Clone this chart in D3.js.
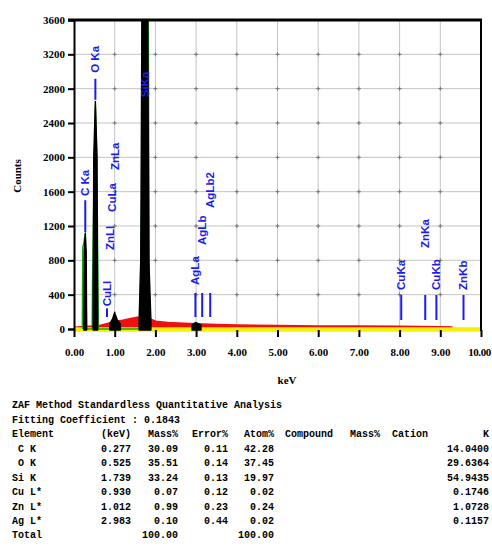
<!DOCTYPE html>
<html>
<head>
<meta charset="utf-8">
<script src="https://cdn.jsdelivr.net/npm/d3@7"></script>
<style>
  body { margin: 0; background: #fff; }
  svg { display: block; }
</style>
</head>
<body>
<script>
// ── axis ticks ───────────────────────────────────────────
const xTicks = [0, 1, 2, 3, 4, 5, 6, 7, 8, 9, 10];
const yTicks = [0, 400, 800, 1200, 1600, 2000, 2400, 2800, 3200, 3600];

// ── spectrum (keV, counts) ───────────────────────────────
// black: net peaks only (0 = gap)
const peakKeV = [0.23, 0.24, 0.25, 0.277, 0.30, 0.31, 0.32,
  0.46, 0.47, 0.485, 0.525, 0.565, 0.58, 0.59,
  0.80, 0.88, 0.95, 0.99, 1.00, 1.01, 1.06, 1.14, 1.20, 1.21,
  1.58, 1.60, 1.64, 1.67, 1.70, 1.739, 1.78, 1.81, 1.84, 1.89, 1.95,
  2.85, 2.90, 2.95, 2.99, 3.04, 3.12, 3.15];
const peakCounts = [0, 50, 900, 1120, 900, 50, 0,
  0, 100, 2000, 2650, 2000, 100, 0,
  0, 60, 120, 180, 195, 175, 110, 60, 0, 0,
  0, 100, 800, 3800, 8000, 9000, 8000, 3800, 800, 100, 0,
  0, 45, 65, 75, 65, 42, 0];

// green: fitted peaks
const fitKeV = [0.205, 0.215, 0.24, 0.277, 0.31,
  0.445, 0.455, 0.485, 0.525, 0.56, 0.60,
  1.62, 1.66, 1.70, 1.739, 1.80, 1.835, 1.85];
const fitCounts = [0, 950, 1000, 1100, 0,
  0, 540, 1500, 2600, 2000, 0,
  0, 1500, 8000, 9000, 8000, 2200, 0];

// red: background
const bgKeV = [0.00, 0.20, 0.40, 0.60, 0.80, 1.00, 1.20, 1.40, 1.55, 1.70, 1.85, 2.00,
  2.30, 2.70, 3.00, 3.50, 4.00, 5.00, 6.00, 7.00, 8.00, 9.00, 9.30];
const bgCounts = [10, 15, 20, 25, 50, 75, 90, 110, 125, 130, 110, 80,
  65, 55, 50, 42, 35, 28, 24, 22, 20, 16, 12];

// ── peak markers ─────────────────────────────────────────
const markerNames = ['C Ka', 'O Ka', 'CuLl', 'ZnLl', 'CuLa', 'ZnLa', 'SiKa',
  'AgLa', 'AgLb', 'AgLb2', 'CuKa', 'ZnKa', 'CuKb', 'ZnKb'];
const markerKeV = [0.277, 0.525, 0.811, 0.884, 0.930, 1.012, 1.739,
  2.983, 3.150, 3.347, 8.040, 8.630, 8.904, 9.570];
const markerLo = [1130, 2670, 140, 0, 0, 0, 0, 140, 140, 140, 105, 105, 105, 105];
const markerHi = [1500, 2915, 240, 0, 0, 0, 0, 420, 420, 420, 396, 396, 396, 396];
const labelAt = [1550, 2985, 265, 920, 1364, 1853, 2700, 513, 979, 1410, 455, 944, 455, 455];

// ── quantitative table ───────────────────────────────────
const elements = ['\u00a0C K', '\u00a0O K', 'Si K', 'Cu L*', 'Zn L*', 'Ag L*'];
const lineKeV = ['0.277', '0.525', '1.739', '0.930', '1.012', '2.983'];
const massPct = ['30.09', '35.51', '33.24', '0.07', '0.99', '0.10'];
const errorPct = ['0.11', '0.14', '0.13', '0.12', '0.23', '0.44'];
const atomPct = ['42.28', '37.45', '19.97', '0.02', '0.24', '0.02'];
const kValue = ['14.0400', '29.6364', '54.9435', '0.1746', '1.0728', '0.1157'];
const massTotal = '100.00', atomTotal = '100.00';
const tableTitle = 'ZAF Method Standardless Quantitative Analysis';
const fitLine = 'Fitting Coefficient : 0.1843';

// ══════════════════════════════════════════════════════════
const W = 492, H = 557;
const svg = d3.select('body').append('svg').attr('width', W).attr('height', H);
svg.append('rect').attr('width', W).attr('height', H).attr('fill', '#fff');

const x = d3.scaleLinear().domain([0, 10]).range([74, 481]);
const y = d3.scaleLinear().domain([0, 3600]).range([329, 20]);
const serif = '"Liberation Serif", "DejaVu Serif", serif';

svg.append('clipPath').attr('id', 'plot')
  .append('rect').attr('x', 74).attr('y', 20).attr('width', 407).attr('height', 320);

// grid
const grid = svg.append('g').attr('stroke', '#c4c4c4').attr('stroke-width', 1);
grid.selectAll('.gx').data(xTicks.slice(1, -1)).join('line')
  .attr('x1', d => x(d)).attr('x2', d => x(d)).attr('y1', y(3600)).attr('y2', y(0));
grid.selectAll('.gy').data(yTicks.slice(1, -1)).join('line')
  .attr('x1', x(0)).attr('x2', x(10)).attr('y1', d => y(d)).attr('y2', d => y(d));
// little dark crosses on the grid intersections
const crosses = [];
xTicks.slice(1, -1).forEach(a => yTicks.slice(1, -1).forEach(b => crosses.push([a, b])));
svg.append('g').attr('stroke', '#777').attr('stroke-width', 1)
  .selectAll('path').data(crosses).join('path')
  .attr('d', d => `M${x(d[0]) - 2},${y(d[1])}h4M${x(d[0])},${y(d[1]) - 2}v4`);

const plot = svg.append('g').attr('clip-path', 'url(#plot)');

// background (red) and baseline band (yellow)
const bg = bgKeV.map((e, i) => ({ e, c: bgCounts[i] }));
plot.append('path').datum(bg)
  .attr('d', d3.area().x(d => x(d.e)).y0(y(0)).y1(d => y(d.c)))
  .attr('fill', '#f01010');
plot.append('path').datum(bg)
  .attr('d', d3.line().x(d => x(d.e)).y(d => y(d.c)))
  .attr('fill', 'none').attr('stroke', '#f01010').attr('stroke-width', 3.5);
plot.append('line')
  .attr('x1', x(0)).attr('x2', x(10)).attr('y1', y(0) + 0.5).attr('y2', y(0) + 0.5)
  .attr('stroke', '#f4f000').attr('stroke-width', 4.5);

// fitted peaks (green)
const fit = fitKeV.map((e, i) => ({ e, c: fitCounts[i] }));
plot.append('path').datum(fit)
  .attr('d', d3.line().x(d => x(d.e)).y(d => y(d.c)))
  .attr('fill', 'none').attr('stroke', '#16a016').attr('stroke-width', 1.4);

// measured peaks (black)
const peaks = peakKeV.map((e, i) => ({ e, c: peakCounts[i] }));
plot.append('path').datum(peaks)
  .attr('d', d3.area().defined(d => d.c > 0).x(d => x(d.e)).y0(y(0) + 1).y1(d => y(d.c)))
  .attr('fill', '#000').attr('stroke', '#000').attr('stroke-width', 1.4)
  .attr('stroke-linejoin', 'round');

// markers
const markers = markerNames.map((name, i) => ({
  name, e: markerKeV[i], lo: markerLo[i], hi: markerHi[i], at: labelAt[i]
}));
const mk = svg.append('g');
mk.selectAll('line').data(markers.filter(d => d.hi > d.lo)).join('line')
  .attr('x1', d => x(d.e)).attr('x2', d => x(d.e))
  .attr('y1', d => y(d.lo)).attr('y2', d => y(d.hi))
  .attr('stroke', '#1c1cf0').attr('stroke-width', 2);
mk.selectAll('text').data(markers).join('text')
  .attr('transform', d => `translate(${x(d.e) + 4},${y(d.at)}) rotate(-90)`)
  .attr('fill', '#1c1cf0')
  .attr('font-family', '"Liberation Sans", Arial, sans-serif')
  .attr('font-weight', 'bold').attr('font-size', 11.5)
  .text(d => d.name);

// axes
const yAxis = svg.append('g').attr('transform', `translate(${x(0)},0)`)
  .call(d3.axisLeft(y).tickValues(yTicks).tickSize(6).tickPadding(3).tickFormat(d3.format('d')));
yAxis.select('.domain').attr('stroke', '#000').attr('stroke-width', 2);
yAxis.selectAll('.tick line').attr('stroke', '#000').attr('stroke-width', 2);
yAxis.selectAll('.tick text')
  .attr('font-family', serif).attr('font-weight', 'bold').attr('font-size', 11).attr('fill', '#000');

const xAxis = svg.append('g').attr('transform', `translate(0,${y(0) + 1})`)
  .call(d3.axisBottom(x).tickValues(xTicks).tickSize(7).tickPadding(11).tickFormat(d3.format('.2f')));
xAxis.select('.domain').remove();
xAxis.selectAll('.tick line').attr('stroke', '#000').attr('stroke-width', 2);
xAxis.selectAll('.tick text')
  .attr('font-family', serif).attr('font-weight', 'bold').attr('font-size', 11).attr('fill', '#000')
  .attr('dx', d => d === 10 ? -2 : 0)
  .attr('letter-spacing', d => d === 10 ? -0.4 : 0);

// frame: heavy top edge, right edge
svg.append('line').attr('x1', 68).attr('x2', x(10) + 1).attr('y1', y(3600)).attr('y2', y(3600))
  .attr('stroke', '#000').attr('stroke-width', 3);
svg.append('line').attr('x1', x(10)).attr('x2', x(10)).attr('y1', y(3600)).attr('y2', y(0) + 2)
  .attr('stroke', '#000').attr('stroke-width', 2);

// axis titles
svg.append('text').attr('transform', `translate(21,176) rotate(-90)`)
  .attr('text-anchor', 'middle').attr('font-family', serif).attr('font-weight', 'bold')
  .attr('font-size', 11).text('Counts');
svg.append('text').attr('x', 287).attr('y', 384)
  .attr('text-anchor', 'middle').attr('font-family', serif).attr('font-weight', 'bold')
  .attr('font-size', 11).text('keV');

// ── table ────────────────────────────────────────────────
const tbl = svg.append('g')
  .attr('font-family', '"Liberation Mono", "DejaVu Sans Mono", monospace')
  .attr('font-weight', 'bold').attr('font-size', 10).attr('fill', '#000');
const put = (txt, px, py, anchor) =>
  tbl.append('text').attr('x', px).attr('y', py).attr('text-anchor', anchor || 'start').text(txt);

put(tableTitle, 12, 408);
put(fitLine, 12, 423);
const hy = 437;
put('Element', 12, hy);
put('(keV)', 131, hy, 'end');
put('Mass%', 178, hy, 'end');
put('Error%', 228, hy, 'end');
put('Atom%', 274, hy, 'end');
put('Compound', 285, hy);
put('Mass%', 350, hy);
put('Cation', 392, hy);
put('K', 489, hy, 'end');

elements.forEach((el, i) => {
  const ry = 452 + i * 14.4;
  put(el, 12, ry);
  put(lineKeV[i], 131, ry, 'end');
  put(massPct[i], 178, ry, 'end');
  put(errorPct[i], 228, ry, 'end');
  put(atomPct[i], 274, ry, 'end');
  put(kValue[i], 489, ry, 'end');
});
const ty = 452 + elements.length * 14.4;
put('Total', 12, ty);
put(massTotal, 178, ty, 'end');
put(atomTotal, 274, ty, 'end');
</script>
</body>
</html>
